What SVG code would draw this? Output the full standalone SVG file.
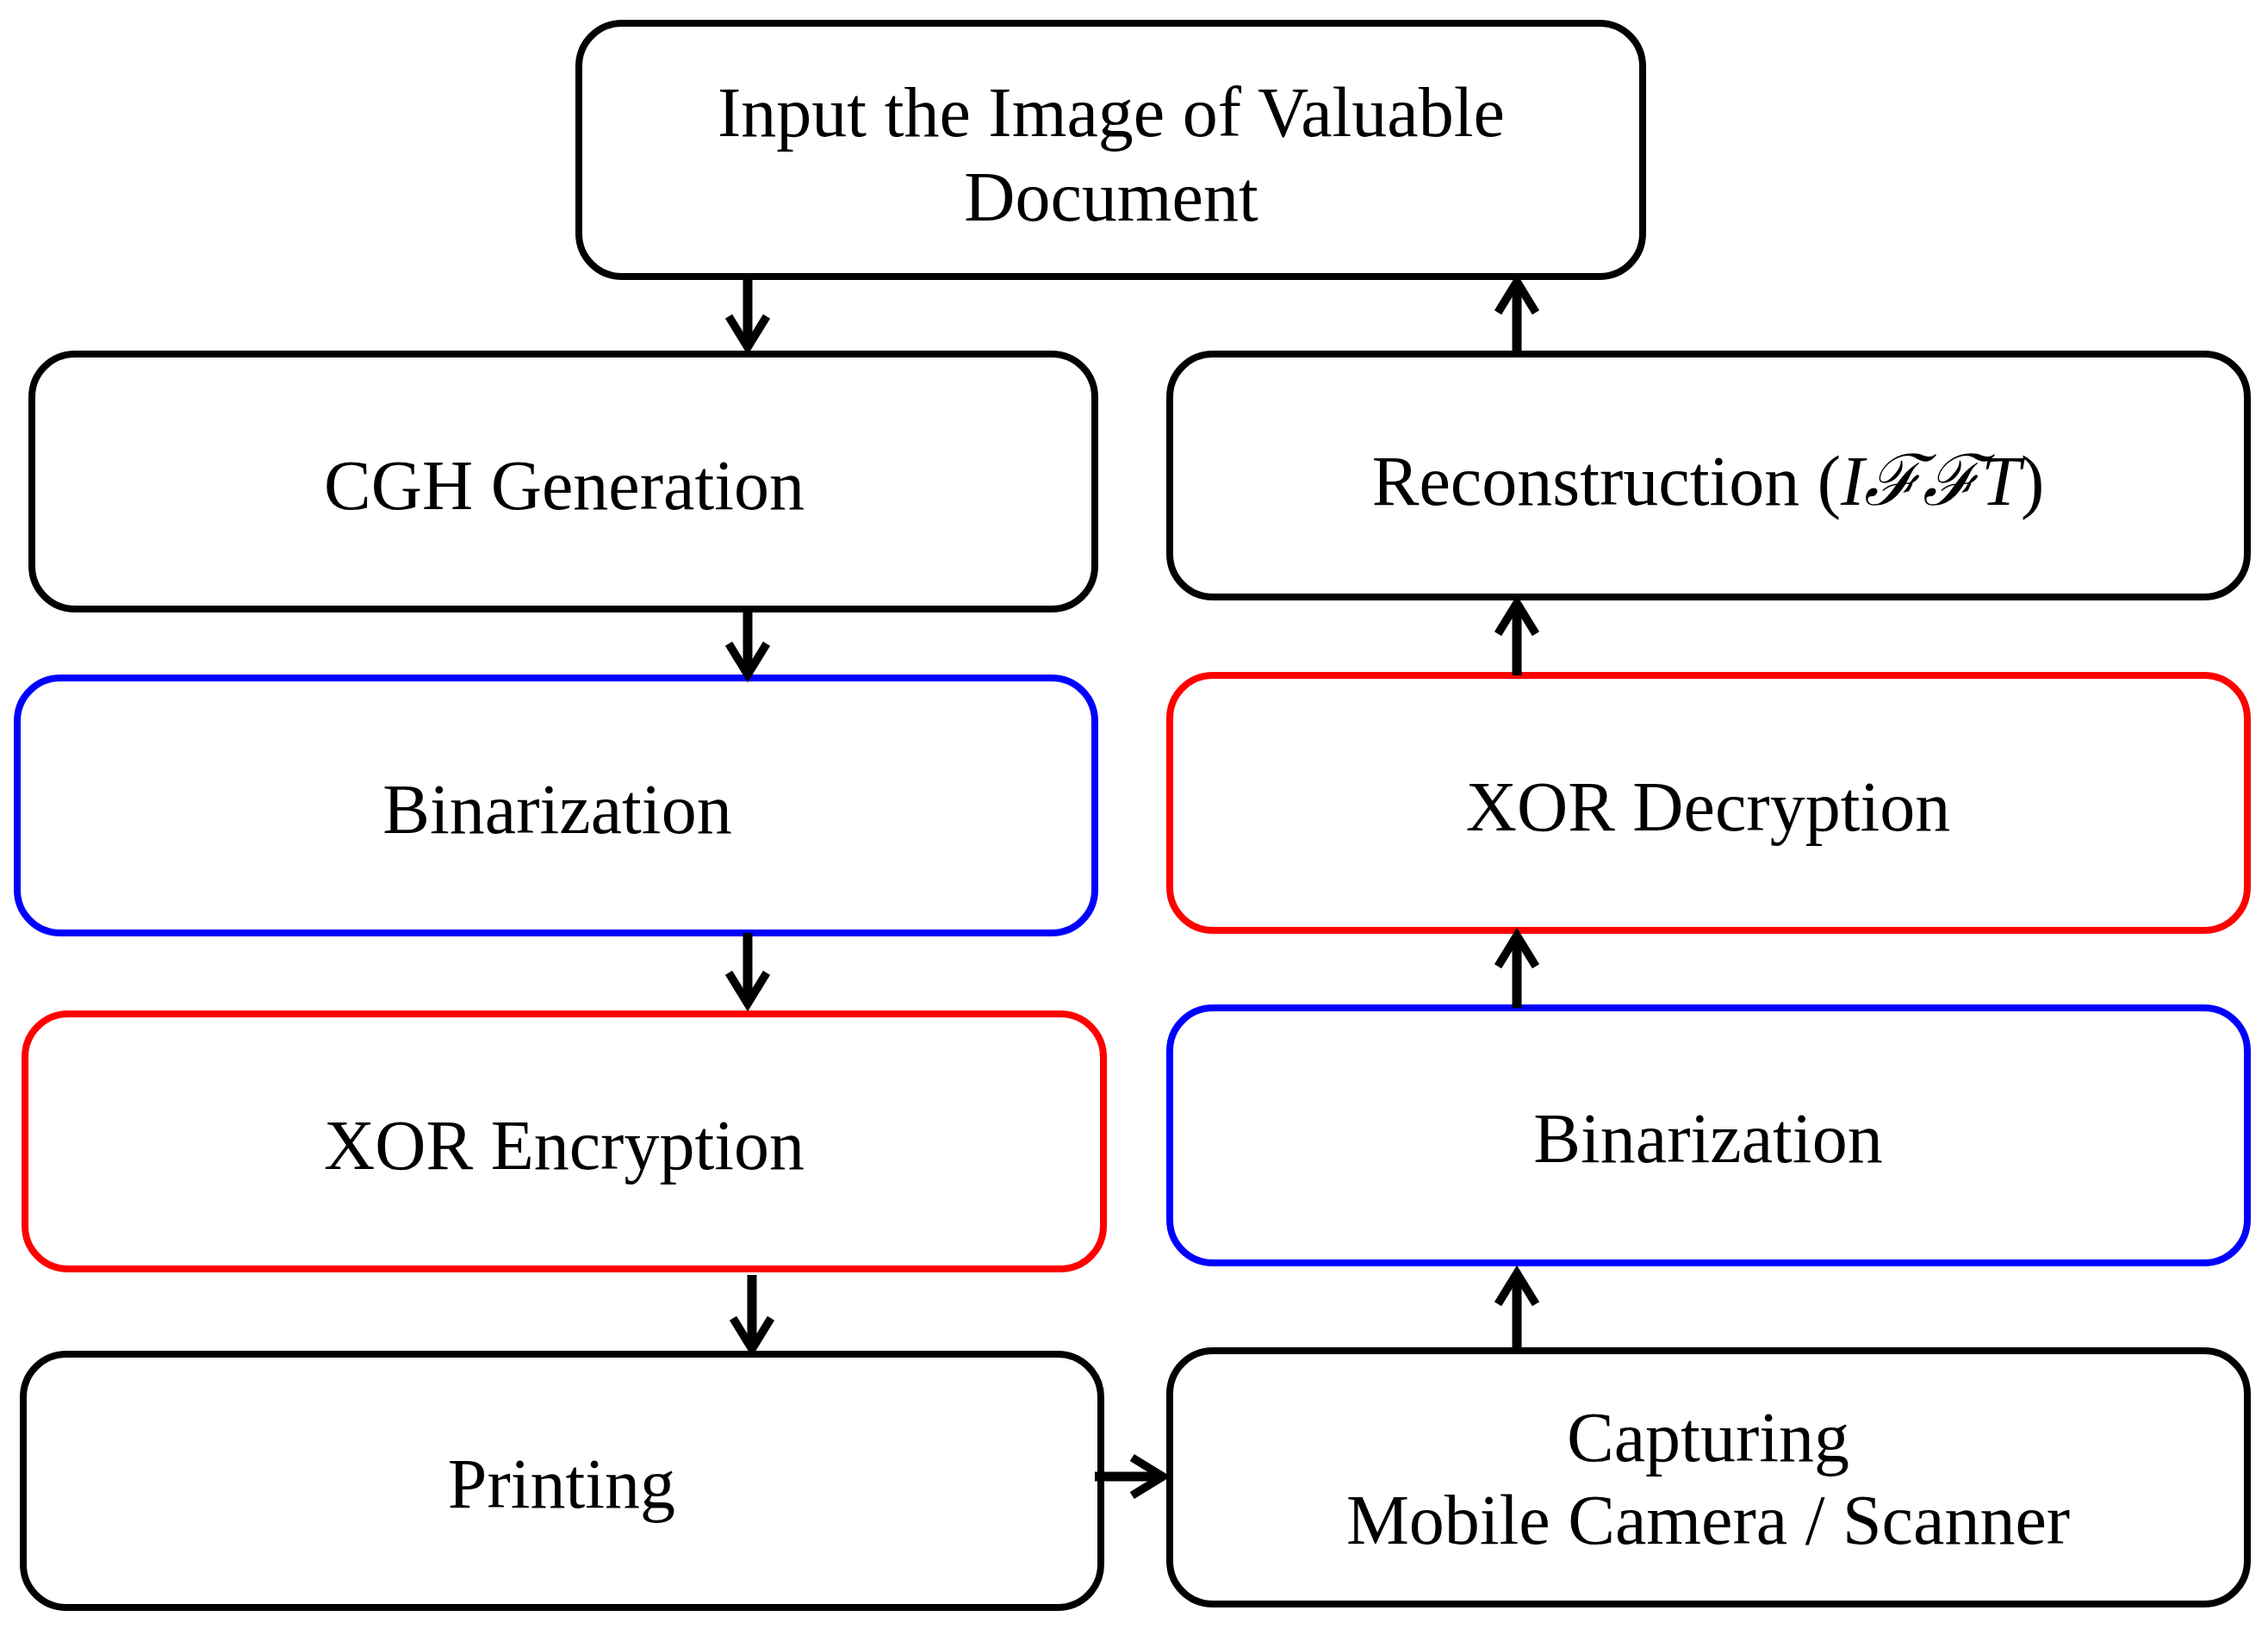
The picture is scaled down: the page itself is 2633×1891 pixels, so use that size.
<svg xmlns="http://www.w3.org/2000/svg" width="2633" height="1891" viewBox="0 0 2633 1891">
<style>
.b{fill:#fff;stroke:#000;stroke-width:8}
.blue{stroke:#0000ff}.red{stroke:#ff0000}
text{font-family:"Liberation Serif","Times New Roman",serif;font-size:82px;text-anchor:middle;dominant-baseline:central;fill:#000}
.c{stroke:#000;stroke-width:11;fill:none}
</style>
<defs>
<marker id="ah" viewBox="0 0 20 20" refX="16" refY="10" markerWidth="5" markerHeight="5" markerUnits="strokeWidth" orient="auto">
<polyline points="3,2 16,10 3,18" fill="none" stroke="#000" stroke-width="3.5"/>
</marker>
</defs>
<rect width="2633" height="1891" fill="#fff"/>
<g id="n1"><rect class="b" x="672" y="27" width="1235" height="294" rx="50"/><text x="1290" y="130">Input the Image of Valuable</text><text x="1290" y="228">Document</text></g>
<g id="n2"><rect class="b" x="37" y="411" width="1234" height="296" rx="50"/><text x="655" y="563">CGH Generation</text></g>
<g id="n3"><rect class="b blue" x="20" y="787" width="1251" height="296" rx="50"/><text x="647" y="939">Binarization</text></g>
<g id="n4"><rect class="b red" x="29" y="1177" width="1252" height="296" rx="50"/><text x="655" y="1329">XOR Encryption</text></g>
<g id="n5"><rect class="b" x="27" y="1572" width="1251" height="294" rx="50"/><text x="652" y="1722">Printing</text></g>
<g id="n6"><rect class="b" x="1358" y="411" width="1251" height="282" rx="50"/><text x="1983" y="558">Reconstruction (<tspan font-style="italic">IℱℱT</tspan>)</text></g>
<g id="n7"><rect class="b red" x="1358" y="784" width="1251" height="296" rx="50"/><text x="1983" y="936">XOR Decryption</text></g>
<g id="n8"><rect class="b blue" x="1358" y="1170" width="1251" height="296" rx="50"/><text x="1983" y="1321">Binarization</text></g>
<g id="n9"><rect class="b" x="1358" y="1568" width="1251" height="294" rx="50"/><text x="1983" y="1668">Capturing</text><text x="1983" y="1764">Mobile Camera / Scanner</text></g>
<g id="connectors">
<line class="c" x1="868" y1="321" x2="868" y2="403" marker-end="url(#ah)"/>
<line class="c" x1="868" y1="707" x2="868" y2="783" marker-end="url(#ah)"/>
<line class="c" x1="868" y1="1083" x2="868" y2="1165" marker-end="url(#ah)"/>
<line class="c" x1="873" y1="1480" x2="873" y2="1566" marker-end="url(#ah)"/>
<line class="c" x1="1271" y1="1714" x2="1350" y2="1714" marker-end="url(#ah)"/>
<line class="c" x1="1761" y1="1568" x2="1761" y2="1478" marker-end="url(#ah)"/>
<line class="c" x1="1761" y1="1170" x2="1761" y2="1086" marker-end="url(#ah)"/>
<line class="c" x1="1761" y1="784" x2="1761" y2="700" marker-end="url(#ah)"/>
<line class="c" x1="1761" y1="411" x2="1761" y2="327" marker-end="url(#ah)"/>
</g>
</svg>
